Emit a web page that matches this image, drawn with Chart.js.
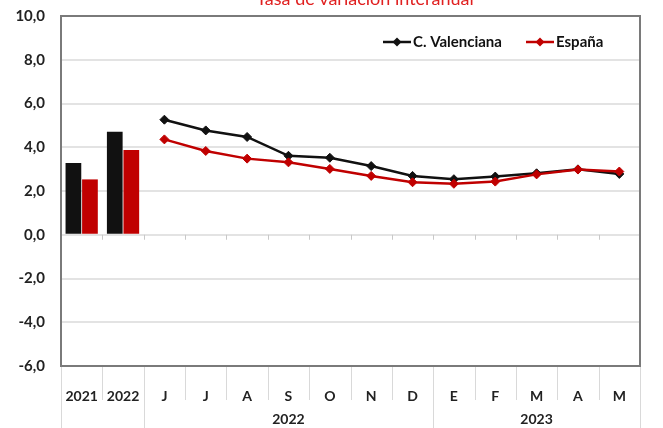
<!DOCTYPE html>
<html>
<head>
<meta charset="utf-8">
<script src="https://cdn.jsdelivr.net/npm/chart.js@4/dist/chart.umd.min.js"></script>
<style>
  html, body { margin: 0; padding: 0; background: #ffffff; }
  #wrap { width: 663px; height: 428px; position: relative; }
</style>
</head>
<body>
<div id="wrap"><canvas id="c" width="663" height="428"></canvas></div>
<script>
// ---- Data ----
const categories = ['2021', '2022', 'J', 'J', 'A', 'S', 'O', 'N', 'D', 'E', 'F', 'M', 'A', 'M'];
const yearGroups = [
  { label: '2022', from: 2, to: 8 },
  { label: '2023', from: 9, to: 13 }
];
const barValencia = [3.28, 4.71, null, null, null, null, null, null, null, null, null, null, null, null];
const barEspana   = [2.53, 3.87, null, null, null, null, null, null, null, null, null, null, null, null];
const lineValencia = [null, null, 5.26, 4.77, 4.47, 3.61, 3.52, 3.14, 2.69, 2.54, 2.66, 2.81, 2.99, 2.78];
const lineEspana   = [null, null, 4.36, 3.83, 3.48, 3.31, 3.01, 2.69, 2.40, 2.33, 2.43, 2.76, 2.98, 2.89];
const seriesNames = ['C. Valenciana', 'España'];
const titleText = 'Tasa de variación interanual';
const yMin = -6, yMax = 10, yStep = 2;

const BLACK = '#111111';
const RED = '#c00000';
const FONT = 'Lato, "Liberation Sans", sans-serif';

const framePlugin = {
  id: 'framePlugin',
  afterDraw(chart) {
    const ctx = chart.ctx;
    const a = chart.chartArea;
    const x = chart.scales.x;
    const y = chart.scales.y;
    const n = categories.length;
    const half = (x.getPixelForValue(1) - x.getPixelForValue(0)) / 2;
    const boundary = i => x.getPixelForValue(i) - half;
    ctx.save();
    // small ticks on zero line
    const y0 = y.getPixelForValue(0);
    ctx.strokeStyle = '#c8c8c8';
    ctx.lineWidth = 1;
    for (let i = 1; i < n; i++) {
      const bx = Math.round(boundary(i)) + 0.5;
      ctx.beginPath(); ctx.moveTo(bx, y0); ctx.lineTo(bx, y0 + 5); ctx.stroke();
    }
    // category separators below plot
    ctx.strokeStyle = '#d9d9d9';
    ctx.lineWidth = 1;
    const H = chart.height;
    const longIdx = new Set([0, 2, 9, n]);
    for (let i = 0; i <= n; i++) {
      const bx = Math.round(boundary(i)) + 0.5;
      const bottom = longIdx.has(i) ? H : a.bottom + 34;
      ctx.beginPath(); ctx.moveTo(bx, a.bottom); ctx.lineTo(bx, bottom); ctx.stroke();
    }
    // year group labels
    ctx.fillStyle = '#222222';
    ctx.font = 'bold 14px ' + FONT;
    ctx.textAlign = 'center';
    ctx.textBaseline = 'middle';
    yearGroups.forEach(g => {
      const cx = (boundary(g.from) + boundary(g.to + 1)) / 2;
      ctx.fillText(g.label, cx, 419);
    });
    // plot frame
    ctx.strokeStyle = '#7a7a7a';
    ctx.lineWidth = 2;
    ctx.strokeRect(a.left, a.top, a.right - a.left, a.bottom - a.top);
    // title (cut off at the top)
    ctx.fillStyle = '#e02020';
    ctx.font = '18px ' + FONT;
    ctx.textAlign = 'center';
    ctx.textBaseline = 'alphabetic';
    ctx.fillText(titleText, 365, 5);
    // legend
    const ly = 42;
    const items = [
      { name: seriesNames[0], color: BLACK, x0: 383 },
      { name: seriesNames[1], color: RED, x0: 526 }
    ];
    ctx.font = 'bold 15px ' + FONT;
    ctx.textAlign = 'left';
    ctx.textBaseline = 'middle';
    items.forEach(it => {
      ctx.strokeStyle = it.color;
      ctx.lineWidth = 2.5;
      ctx.beginPath(); ctx.moveTo(it.x0, ly); ctx.lineTo(it.x0 + 28, ly); ctx.stroke();
      ctx.fillStyle = it.color;
      const mx = it.x0 + 14, r = 4.5;
      ctx.beginPath();
      ctx.moveTo(mx, ly - r); ctx.lineTo(mx + r, ly); ctx.lineTo(mx, ly + r); ctx.lineTo(mx - r, ly);
      ctx.closePath(); ctx.fill();
      ctx.fillStyle = '#111111';
      ctx.fillText(it.name, it.x0 + 30, ly);
    });
    ctx.restore();
  }
};

new Chart(document.getElementById('c'), {
  data: {
    labels: categories,
    datasets: [
      { type: 'bar', label: seriesNames[0], data: barValencia, backgroundColor: BLACK,
        categoryPercentage: 0.8, barPercentage: 0.95, order: 2 },
      { type: 'bar', label: seriesNames[1], data: barEspana, backgroundColor: RED,
        categoryPercentage: 0.8, barPercentage: 0.95, order: 2 },
      { type: 'line', label: seriesNames[0], data: lineValencia, borderColor: BLACK, backgroundColor: BLACK,
        borderWidth: 2.5, pointStyle: 'rectRot', pointRadius: 4.5, pointBorderWidth: 1, tension: 0, order: 1 },
      { type: 'line', label: seriesNames[1], data: lineEspana, borderColor: RED, backgroundColor: RED,
        borderWidth: 2.5, pointStyle: 'rectRot', pointRadius: 4.5, pointBorderWidth: 1, tension: 0, order: 0 }
    ]
  },
  options: {
    responsive: false,
    animation: false,
    devicePixelRatio: 1,
    layout: { padding: { left: 0, right: 23, top: 16, bottom: 0 } },
    plugins: { legend: { display: false }, tooltip: { enabled: false }, title: { display: false } },
    scales: {
      x: {
        type: 'category',
        offset: true,
        grid: { display: false },
        border: { display: false },
        ticks: {
          color: '#222222',
          font: { family: FONT, size: 14, weight: 'bold' },
          padding: 14,
          maxRotation: 0,
          autoSkip: false
        },
        afterFit(scale) { scale.height = 62; scale.paddingLeft = 0; scale.paddingRight = 0; }
      },
      y: {
        min: yMin, max: yMax,
        grid: { color: '#e3e3e3', lineWidth: 2, drawTicks: false },
        border: { display: false },
        ticks: {
          stepSize: yStep,
          color: '#222222',
          font: { family: FONT, size: 15, weight: 'bold' },
          padding: 16,
          callback: v => v.toFixed(1).replace('.', ',')
        },
        afterFit(scale) { scale.width = 61; scale.paddingTop = 0; scale.paddingBottom = 0; }
      }
    }
  },
  plugins: [framePlugin]
});
</script>
</body>
</html>
